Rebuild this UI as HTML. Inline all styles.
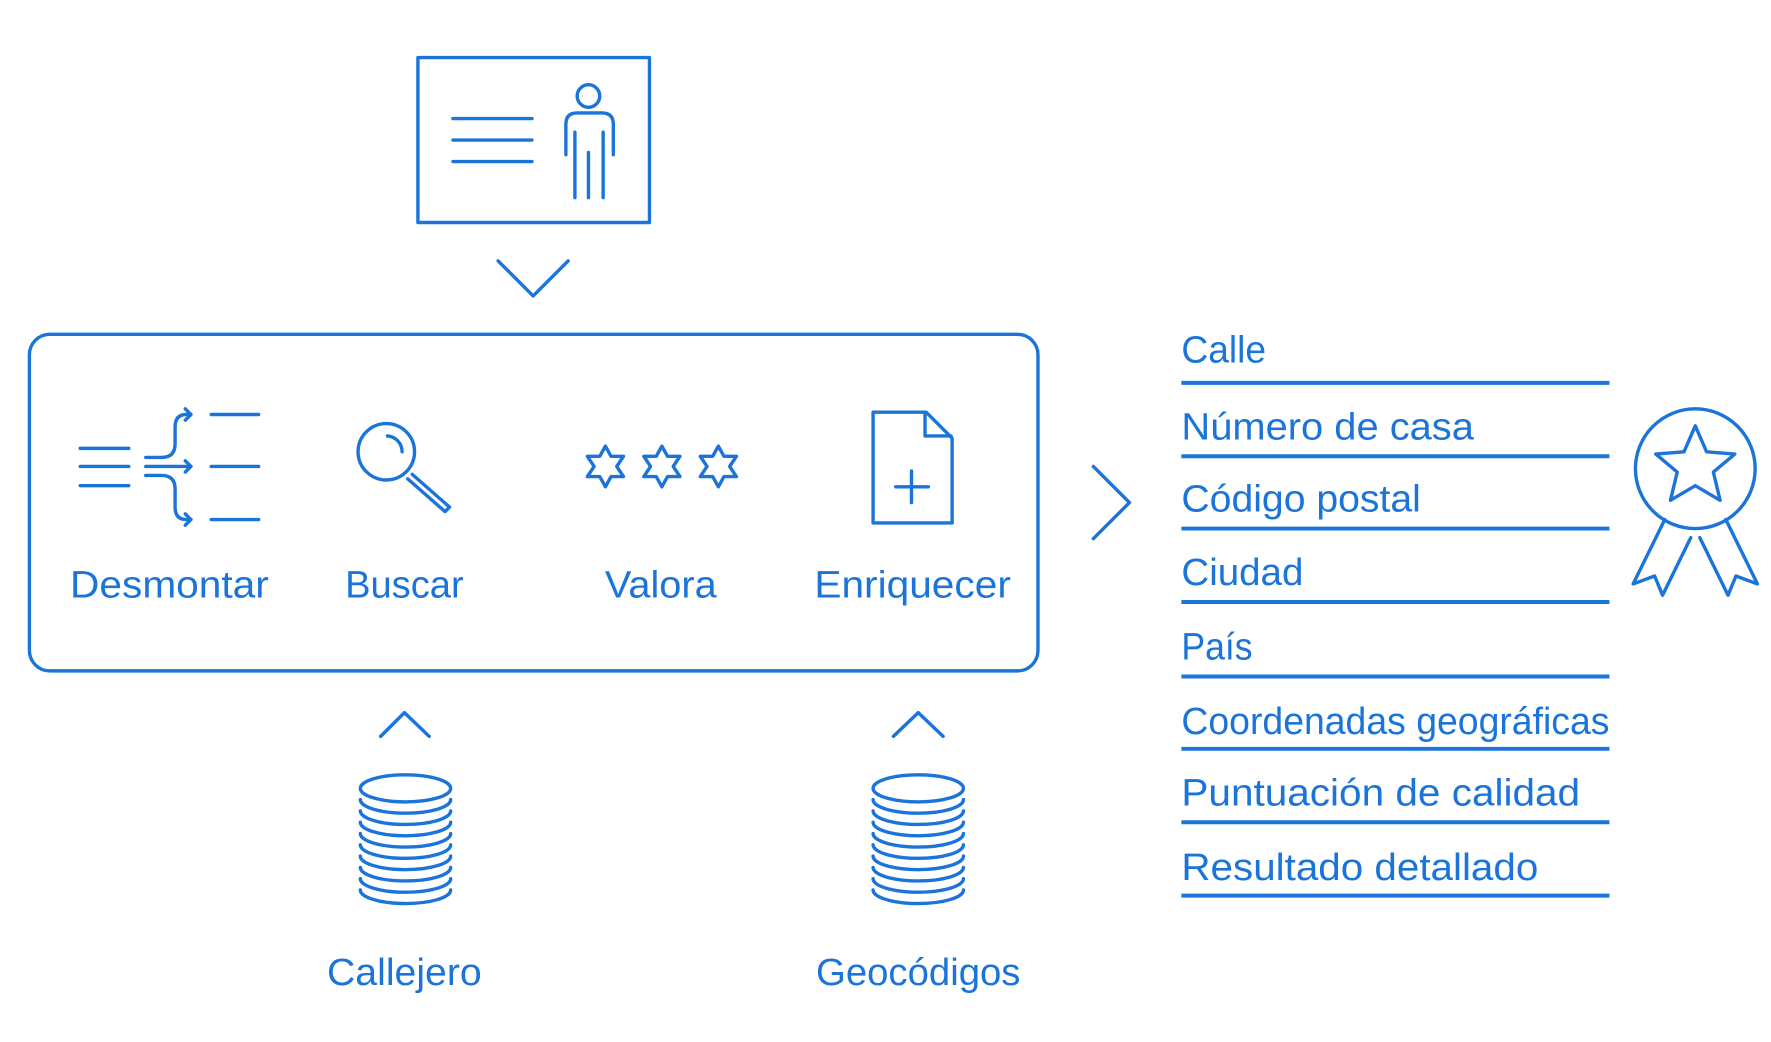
<!DOCTYPE html>
<html><head><meta charset="utf-8"><style>
html,body{margin:0;padding:0;background:#fff;}
svg{display:block;}
text{font-family:"Liberation Sans",sans-serif;fill:#1b74d9;font-size:34px;}
</style></head><body>
<svg width="1771" height="1042" viewBox="0 0 1568 922.6" xmlns="http://www.w3.org/2000/svg">
<g fill="none" stroke="#1b74d9" stroke-width="3" stroke-linecap="round" stroke-linejoin="round">
<!-- top box -->
<rect x="370" y="51" width="205" height="146" stroke-linecap="butt"/>
<line x1="401" y1="105" x2="471" y2="105"/><line x1="401" y1="124" x2="471" y2="124"/><line x1="401" y1="143" x2="471" y2="143"/>
<circle cx="521" cy="85" r="10"/>
<path d="M501 137 V110 Q501 100 511 100 H533 Q543 100 543 110 V137"/>
<line x1="509" y1="117" x2="509" y2="175"/><line x1="534" y1="117" x2="534" y2="175"/><line x1="521" y1="135" x2="521" y2="175"/>
<path d="M441 231 L472 262 L503 231"/>
<!-- main box -->
<rect x="26" y="296" width="893" height="298" rx="18"/>
<!-- desmontar icon -->
<line x1="71" y1="397" x2="114" y2="397"/><line x1="71" y1="413" x2="114" y2="413"/><line x1="71" y1="430" x2="114" y2="430"/>
<line x1="129" y1="413" x2="169" y2="413"/><path d="M164 408 L169 413 L164 418"/>
<path d="M129 405 H143 Q155 405 155 393 V378 Q155 367 165 367 H169"/><path d="M164 362 L169 367 L164 372"/>
<path d="M129 421 H143 Q155 421 155 433 V449 Q155 460 165 460 H169"/><path d="M164 455 L169 460 L164 465"/>
<line x1="187" y1="367" x2="229" y2="367"/><line x1="187" y1="413" x2="229" y2="413"/><line x1="187" y1="460" x2="229" y2="460"/>
<!-- magnifier -->
<circle cx="342" cy="400" r="25"/>
<path d="M343 386 A14 14 0 0 1 356 400"/>
<path d="M365 420 L398 449 L394 453 L361 424"/>
<!-- stars -->
<g id="st"><path d="M536 395 L541 404 L552 404 L546 413 L552 422 L541 422 L536 431 L531 422 L520 422 L526 413 L520 404 L531 404 Z"/></g>
<path transform="translate(50 0)" d="M536 395 L541 404 L552 404 L546 413 L552 422 L541 422 L536 431 L531 422 L520 422 L526 413 L520 404 L531 404 Z"/>
<path transform="translate(100 0)" d="M536 395 L541 404 L552 404 L546 413 L552 422 L541 422 L536 431 L531 422 L520 422 L526 413 L520 404 L531 404 Z"/>
<!-- document -->
<path d="M773 365 H820 L843 388 V463 H773 Z"/><path d="M819 366 V386 H842"/>
<line x1="807" y1="417" x2="807" y2="445"/><line x1="793" y1="431" x2="822" y2="431"/>
<!-- chevrons -->
<path d="M968 413 L1000 445 L968 477"/>
<path d="M337 652 L358 631 L380 652"/>
<path d="M791 652 L813 631 L835 652"/>
<!-- coin stacks -->
<g id="c1">
<ellipse cx="359" cy="698" rx="40" ry="12"/>
<path d="M319 708 A40 12 0 0 0 399 708 M319 718 A40 12 0 0 0 399 718 M319 728 A40 12 0 0 0 399 728 M319 738 A40 12 0 0 0 399 738 M319 748 A40 12 0 0 0 399 748 M319 758 A40 12 0 0 0 399 758 M319 768 A40 12 0 0 0 399 768 M319 778 A40 12 0 0 0 399 778 M319 788 A40 12 0 0 0 399 788"/>
</g>
<g transform="translate(454 0)">
<ellipse cx="359" cy="698" rx="40" ry="12"/>
<path d="M319 708 A40 12 0 0 0 399 708 M319 718 A40 12 0 0 0 399 718 M319 728 A40 12 0 0 0 399 728 M319 738 A40 12 0 0 0 399 738 M319 748 A40 12 0 0 0 399 748 M319 758 A40 12 0 0 0 399 758 M319 768 A40 12 0 0 0 399 768 M319 778 A40 12 0 0 0 399 778 M319 788 A40 12 0 0 0 399 788"/>
</g>
<!-- list lines -->
<g stroke-width="3.5" stroke-linecap="butt">
<line x1="1046" y1="339" x2="1425" y2="339"/><line x1="1046" y1="404" x2="1425" y2="404"/>
<line x1="1046" y1="468" x2="1425" y2="468"/><line x1="1046" y1="533" x2="1425" y2="533"/>
<line x1="1046" y1="599" x2="1425" y2="599"/><line x1="1046" y1="663" x2="1425" y2="663"/>
<line x1="1046" y1="728" x2="1425" y2="728"/><line x1="1046" y1="793" x2="1425" y2="793"/>
</g>
<!-- medal -->
<circle cx="1501" cy="415" r="53"/>
<path d="M1501 377 L1511 400 L1536 402 L1517 418 L1523 443 L1501 430 L1479 443 L1485 418 L1466 402 L1491 400 Z"/>
<path d="M1474 460 L1446 517 L1465 510 L1472 527 L1497 476"/>
<path d="M1528 460 L1556 517 L1537 510 L1530 527 L1505 476"/>
</g>
<g>
<text x="150" y="529" text-anchor="middle" textLength="176" lengthAdjust="spacingAndGlyphs">Desmontar</text>
<text x="358" y="529" text-anchor="middle" textLength="105" lengthAdjust="spacingAndGlyphs">Buscar</text>
<text x="585" y="529" text-anchor="middle" textLength="99" lengthAdjust="spacingAndGlyphs">Valora</text>
<text x="808" y="529" text-anchor="middle" textLength="174" lengthAdjust="spacingAndGlyphs">Enriquecer</text>
<text x="358" y="872" text-anchor="middle" textLength="137" lengthAdjust="spacingAndGlyphs">Callejero</text>
<text x="813" y="872" text-anchor="middle" textLength="181" lengthAdjust="spacingAndGlyphs">Geocódigos</text>
<text x="1046" y="321" textLength="75" lengthAdjust="spacingAndGlyphs">Calle</text>
<text x="1046" y="389" textLength="259" lengthAdjust="spacingAndGlyphs">Número de casa</text>
<text x="1046" y="453" textLength="212" lengthAdjust="spacingAndGlyphs">Código postal</text>
<text x="1046" y="518" textLength="108" lengthAdjust="spacingAndGlyphs">Ciudad</text>
<text x="1046" y="584" textLength="63" lengthAdjust="spacingAndGlyphs">País</text>
<text x="1046" y="650" textLength="379" lengthAdjust="spacingAndGlyphs">Coordenadas geográficas</text>
<text x="1046" y="713" textLength="353" lengthAdjust="spacingAndGlyphs">Puntuación de calidad</text>
<text x="1046" y="779" textLength="316" lengthAdjust="spacingAndGlyphs">Resultado detallado</text>
</g>
</svg>
</body></html>
